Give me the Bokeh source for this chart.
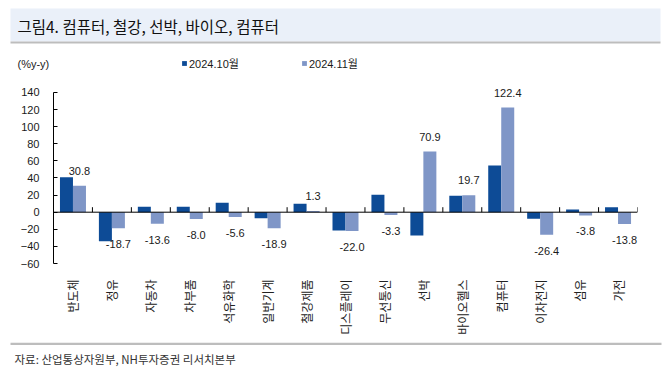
import math
from bokeh.plotting import figure
from bokeh.layouts import column
from bokeh.models import (ColumnDataSource, Range1d, FixedTicker, Span, LabelSet,
                          Legend, LegendItem)
from bokeh.transform import dodge
from bokeh.core.properties import value
from bokeh.embed import file_html
from bokeh.resources import INLINE

# ---------------- data ----------------
categories = ["반도체", "정유", "자동차", "차부품", "석유화학", "일반기계", "철강제품",
              "디스플레이", "무선통신", "선박", "바이오헬스", "컴퓨터", "이차전지", "섬유", "가전"]
oct_2024 = [41.0, -34.0, 6.5, 6.5, 11.0, -7.0, 9.8, -21.4, 20.3, -27.3, 19.2, 54.6, -7.8, 3.2, 5.9]
nov_2024 = [30.8, -18.7, -13.6, -8.0, -5.6, -18.9, 1.3, -22.0, -3.3, 70.9, 19.7, 122.4, -26.4, -3.8, -13.8]
series_names = ["2024.10월", "2024.11월"]
y_ticks = [-60, -40, -20, 0, 20, 40, 60, 80, 100, 120, 140]
title_text = "그림4. 컴퓨터, 철강, 선박, 바이오, 컴퓨터"
unit_text = "(%y-y)"
source_text = "자료: 산업통상자원부, NH투자증권 리서치본부"

DARK = "#0D4B96"
LIGHT = "#7F96C7"
BAND = "#EAF0F9"
RULE = "#BDBDBD"
NUM_FONT = "Liberation Sans"
KR_FONT = "Noto Sans CJK KR"
MIX_FONT = "'Liberation Sans', 'Noto Sans CJK KR'"
W = 670

n = len(categories)
xs = list(range(n))
src = ColumnDataSource(dict(
    x=xs,
    oct=oct_2024,
    nov=nov_2024,
    nov_label=[f"{v:.1f}" for v in nov_2024],
    off=[15 if v >= 0 else -16 for v in nov_2024],
))


def blank(height):
    f = figure(width=W, height=height, output_backend="svg", toolbar_location=None,
               x_range=Range1d(0, W), y_range=Range1d(height, 0),
               x_axis_type=None, y_axis_type=None, frame_align=False,
               min_border_left=0, min_border_right=0, min_border_top=0, min_border_bottom=0)
    f.outline_line_color = None
    f.xgrid.visible = False
    f.ygrid.visible = False
    return f


# ---------------- header ----------------
H_H = 78
head = blank(H_H)
head.quad(left=[10], right=[660], top=[8], bottom=[41], fill_color=BAND, line_color=None)
head.quad(left=[10], right=[660], top=[41], bottom=[43], fill_color=RULE, line_color=None)
head.text(x=[17], y=[25], text=[title_text], text_font=value(KR_FONT), text_font_size="15.5px",
          text_color="#111111", text_baseline="middle", text_align="left")
head.text(x=[17], y=[63], text=[unit_text], text_font=value(NUM_FONT), text_font_size="11px",
          text_color="#1a1a1a", text_baseline="middle", text_align="left")
# legend swatches come from hidden copies of the two bar series
h1 = head.vbar(x="x", top="oct", width=0.3, source=src, fill_color=DARK, line_color=None,
               visible=False)
h2 = head.vbar(x="x", top="nov", width=0.3, source=src, fill_color=LIGHT, line_color=None,
               visible=False)
legend = Legend(items=[LegendItem(label=series_names[0], renderers=[h1]),
                       LegendItem(label=series_names[1], renderers=[h2])],
                orientation="horizontal", location=(181, 7),
                glyph_width=6, glyph_height=6, label_standoff=2, spacing=62,
                padding=0, margin=0, border_line_color=None, background_fill_alpha=0,
                inactive_fill_alpha=0,
                label_text_font=MIX_FONT, label_text_font_size="11px",
                label_text_color="#1a1a1a", label_height=12)
head.add_layout(legend)

# ---------------- main chart ----------------
p = figure(width=W, height=264, output_backend="svg", toolbar_location=None,
           x_range=Range1d(-0.5, n - 0.5), y_range=Range1d(-60, 150.5), frame_align=False,
           min_border_left=53, min_border_right=33, min_border_top=5, min_border_bottom=79)
p.outline_line_color = None
p.xgrid.visible = False
p.ygrid.visible = False

bw = 0.334
r1 = p.vbar(x=dodge("x", -bw / 2, range=p.x_range), top="oct", bottom=0, width=bw, source=src,
            fill_color=DARK, line_color=None)
r2 = p.vbar(x=dodge("x", bw / 2, range=p.x_range), top="nov", bottom=0, width=bw, source=src,
            fill_color=LIGHT, line_color=None)

# zero axis line and category boundary ticks
p.add_layout(Span(location=0, dimension="width", line_color="black", line_width=1))
p.ray(x=[i + 0.5 for i in xs], y=[0] * n, length=5, length_units="screen",
      angle=math.pi / 2, line_color="black", line_width=1)

# value labels (2024.11 series)
p.add_layout(LabelSet(x=dodge("x", bw / 2, range=p.x_range), y="nov", text="nov_label",
                      y_offset="off", source=src, text_align="center", text_baseline="middle",
                      text_font=value(NUM_FONT), text_font_size="11px", text_color="#1a1a1a"))

ya = p.yaxis[0]
ya.ticker = FixedTicker(ticks=y_ticks)
ya.bounds = (y_ticks[0], y_ticks[-1])
ya.major_tick_in = 4
ya.major_tick_out = 0
ya.minor_tick_in = 0
ya.minor_tick_out = 0
ya.axis_line_color = "black"
ya.major_tick_line_color = "black"
ya.major_label_standoff = 14
ya.major_label_text_font = NUM_FONT
ya.major_label_text_font_size = "11px"
ya.major_label_text_color = "#1a1a1a"

xa = p.xaxis[0]
xa.ticker = FixedTicker(ticks=xs)
xa.major_label_overrides = {i: c for i, c in enumerate(categories)}
xa.major_label_orientation = math.pi / 2
xa.axis_line_color = None
xa.major_tick_line_color = None
xa.minor_tick_line_color = None
xa.major_label_standoff = 10
xa.major_label_text_font = KR_FONT
xa.major_label_text_font_size = "12px"
xa.major_label_text_color = "#222222"

# ---------------- footer ----------------
foot = blank(31)
foot.quad(left=[10], right=[661], top=[0], bottom=[2.5], fill_color=RULE, line_color=None)
foot.text(x=[14], y=[16], text=[source_text], text_font=value(KR_FONT), text_font_size="11.5px",
          text_color="#333333", text_baseline="middle", text_align="left")

layout = column(head, p, foot, spacing=0)
open("out.html", "w").write(file_html(layout, INLINE))
